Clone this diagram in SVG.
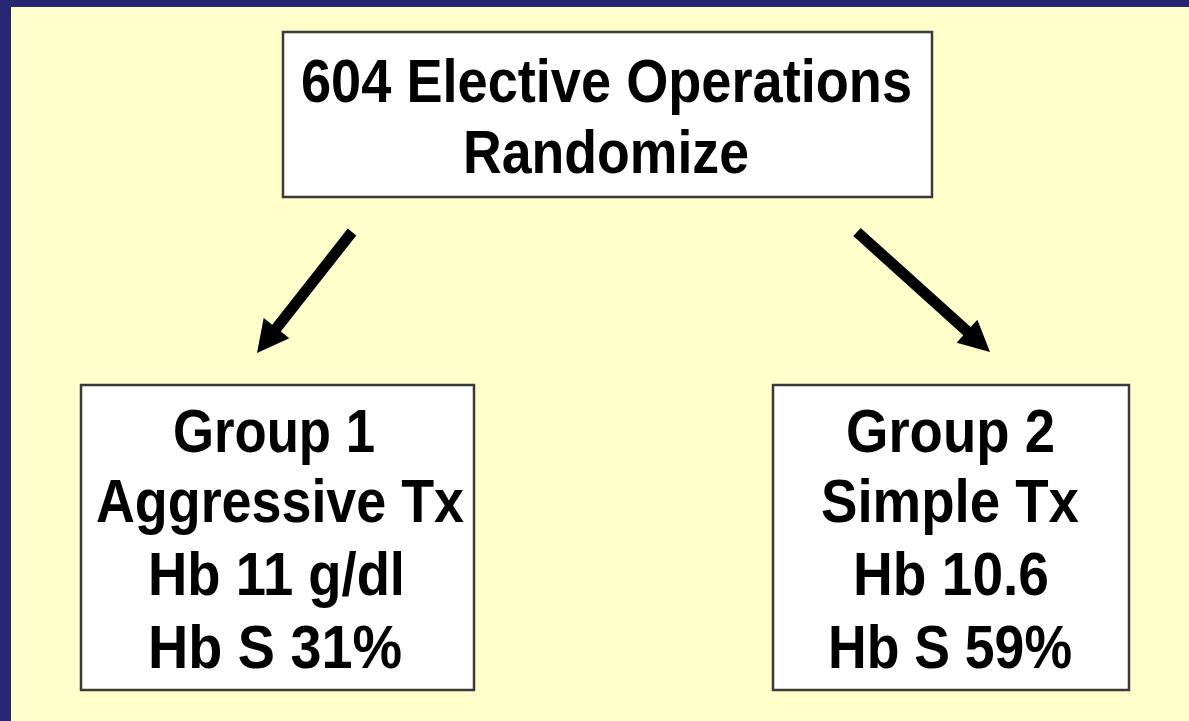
<svg xmlns="http://www.w3.org/2000/svg" width="1189" height="721" viewBox="0 0 1189 721">
<style>
.box{fill:#FFFFFF;stroke:#3a3a3a;stroke-width:2.5}
.t{font-family:"Liberation Sans",Arial,sans-serif;font-weight:bold;font-size:61px;fill:#000;text-anchor:middle}
.arr{fill:#000}
</style>
<rect x="0" y="0" width="1189" height="721" fill="#FFFFCC"/>
<rect x="0" y="0" width="1189" height="7" fill="#262673"/>
<rect x="0" y="0" width="11" height="721" fill="#262673"/>
<g id="connectors">
<polygon class="arr" points="347.7,228.6 356.3,235.4 280.8,331.6 289.3,338.3 257,353 263.7,318.1 272.2,324.8"/>
<polygon class="arr" points="860.7,227.9 970.7,327.1 977.4,319.7 990,352 956.6,342.7 963.3,335.3 853.3,236.1"/>
</g>
<g id="node-top">
<rect class="box" x="283" y="32" width="649" height="165"/>
<text class="t" x="606.5" y="102" textLength="611" lengthAdjust="spacingAndGlyphs">604 Elective Operations</text>
<text class="t" x="606" y="173" textLength="286" lengthAdjust="spacingAndGlyphs">Randomize</text>
</g>
<g id="node-group1">
<rect class="box" x="81" y="385" width="393" height="305"/>
<text class="t" x="274" y="452" textLength="202" lengthAdjust="spacingAndGlyphs">Group 1</text>
<text class="t" x="280" y="522" textLength="368" lengthAdjust="spacingAndGlyphs">Aggressive Tx</text>
<text class="t" x="276.5" y="595" textLength="257" lengthAdjust="spacingAndGlyphs">Hb 11 g/dl</text>
<text class="t" x="275" y="668" textLength="254" lengthAdjust="spacingAndGlyphs">Hb S 31%</text>
</g>
<g id="node-group2">
<rect class="box" x="773" y="385" width="356" height="305"/>
<text class="t" x="950.5" y="452" textLength="209" lengthAdjust="spacingAndGlyphs">Group 2</text>
<text class="t" x="950" y="522" textLength="258" lengthAdjust="spacingAndGlyphs">Simple Tx</text>
<text class="t" x="951" y="595" textLength="196" lengthAdjust="spacingAndGlyphs">Hb 10.6</text>
<text class="t" x="950" y="668" textLength="244" lengthAdjust="spacingAndGlyphs">Hb S 59%</text>
</g>
</svg>
